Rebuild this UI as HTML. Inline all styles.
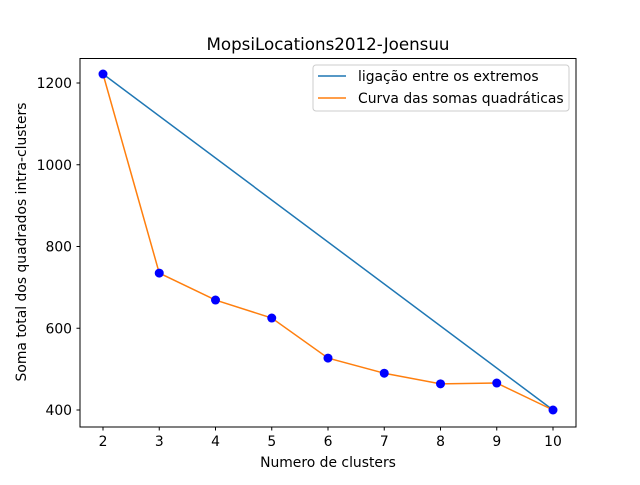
<!DOCTYPE html>
<html><head><meta charset="utf-8"><style>
body{margin:0;background:#fff;}
svg text{font-family:"DejaVu Sans","Liberation Sans",sans-serif;fill:#000;}
</style></head><body>
<svg id="chart" width="640" height="480" xmlns="http://www.w3.org/2000/svg">
<rect width="640" height="480" fill="#fff"/>
<text x="328" y="50" font-size="16.7" text-anchor="middle">MopsiLocations2012-Joensuu</text>
<g id="ticks"></g>
<g id="plot"></g>
<rect x="80" y="58.5" width="496" height="368.5" fill="none" stroke="#000" stroke-width="1"/>
<text x="328" y="467" font-size="13.9" text-anchor="middle">Numero de clusters</text>
<text transform="translate(26,242) rotate(-90)" font-size="13.9" text-anchor="middle">Soma total dos quadrados intra-clusters</text>
<g>
<rect x="313" y="65" width="256" height="46" rx="3" fill="#fff" stroke="#ccc"/>
<line x1="318" y1="76" x2="346" y2="76" stroke="#1f77b4" stroke-width="1.5"/>
<text x="358" y="81" font-size="13.9">ligação entre os extremos</text>
<line x1="318" y1="98" x2="346" y2="98" stroke="#ff7f0e" stroke-width="1.5"/>
<text x="358" y="103" font-size="13.9">Curva das somas quadráticas</text>
</g>
</svg>
<script>
const clusters=[2,3,4,5,6,7,8,9,10];
const wss=[1222,735,669,625,527,490,464,466,400];
const xTicks=[2,3,4,5,6,7,8,9,10];
const yTicks=[400,600,800,1000,1200];
const NS="http://www.w3.org/2000/svg";
const xs=v=>103+(v-2)*56.25;
const ys=v=>83+(1200-v)*0.40875;
const plot=document.getElementById('plot'),ticks=document.getElementById('ticks');
function mk(t,a,p){const e=document.createElementNS(NS,t);for(const k in a)e.setAttribute(k,a[k]);p.appendChild(e);return e;}
xTicks.forEach(v=>{
 mk('line',{x1:xs(v),x2:xs(v),y1:427,y2:430.5,stroke:'#000'},ticks);
 const t=mk('text',{x:xs(v),y:446,'font-size':13.9,'text-anchor':'middle'},ticks);t.textContent=v;
 
 
});
yTicks.forEach(v=>{
 mk('line',{x1:76.5,x2:80,y1:ys(v),y2:ys(v),stroke:'#000'},ticks);
 const t=mk('text',{x:72,y:ys(v)+5,'font-size':13.9,'text-anchor':'end'},ticks);t.textContent=v;
 
 
});
const n=clusters.length-1;
const l=mk('line',{x1:xs(clusters[0]),y1:ys(wss[0]),x2:xs(clusters[n]),y2:ys(wss[n]),stroke:'#1f77b4','stroke-width':1.5},plot);


const pl=mk('polyline',{points:clusters.map((c,i)=>xs(c)+','+ys(wss[i])).join(' '),fill:'none',stroke:'#ff7f0e','stroke-width':1.5},plot);


clusters.forEach((c,i)=>{
 const p=mk('circle',{cx:xs(c),cy:ys(wss[i]),r:4.5,fill:'#0000ff'},plot);
 
 
});
</script>
</body></html>
